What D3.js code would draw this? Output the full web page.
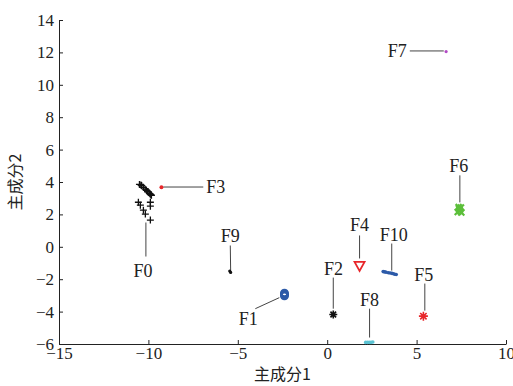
<!DOCTYPE html>
<html>
<head>
<meta charset="utf-8">
<script src="https://cdn.jsdelivr.net/npm/d3@7"></script>
<style>
  body { margin: 0; background: #fff; }
  text { font-family: "Liberation Serif", "Times New Roman", serif; }
  .cjk { font-family: "Noto Sans CJK SC", sans-serif; }
</style>
</head>
<body>
<div id="chart"></div>
<script>
// tick values
const xTicks = [-15, -10, -5, 0, 5, 10];
const yTicks = [-6, -4, -2, 0, 2, 4, 6, 8, 10, 12, 14];

// samples per group (PC1, PC2)
const f0 = [[-10.50, 3.85], [-10.42, 3.82], [-10.38, 3.78], [-10.28, 3.67], [-10.18, 3.56], [-10.11, 3.49],
            [-10.05, 3.42], [-10.02, 3.40], [-9.94, 3.30], [-9.90, 3.26], [-9.86, 3.22], [-9.83, 3.18],
            [-10.56, 2.75], [-10.45, 2.57], [-9.89, 2.75], [-9.89, 2.51],
            [-10.28, 2.26], [-10.17, 2.02], [-9.89, 1.65]];
const f1 = [[-2.39, -2.86], [-2.39, -2.94], [-2.39, -3.02]];
const f2 = [[0.34, -4.18]];
const f3 = [[-9.27, 3.67]];
const f4 = [[1.81, -1.18]];
const f5 = [[5.38, -4.28]];
const f6 = [[7.30, 2.15], [7.40, 2.30], [7.48, 2.42], [7.35, 2.45], [7.50, 2.12], [7.42, 2.22], [7.38, 2.35]];
const f7 = [[6.65, 12.05]];
const f8 = [[2.15, -5.90], [2.25, -5.90], [2.35, -5.90], [2.45, -5.90], [2.55, -5.88]];
const f9 = [[-5.45, -1.50], [-5.40, -1.58]];
const f10 = [[3.13, -1.53], [3.22, -1.55], [3.30, -1.57], [3.42, -1.60], [3.52, -1.62],
             [3.62, -1.64], [3.70, -1.66], [3.78, -1.69], [3.86, -1.71]];

// annotation: label, line from -> to, label spot, anchor
const notes = [
  { name: 'F0', from: [-10.14, 1.5], to: [-10.14, -0.6], at: [-10.3, -1.47], anchor: 'middle' },
  { name: 'F1', from: [-2.68, -3.14], to: [-4.02, -3.82], at: [-4.41, -4.43], anchor: 'middle' },
  { name: 'F2', from: [0.34, -3.82], to: [0.34, -1.9], at: [0.35, -1.38], anchor: 'middle' },
  { name: 'F3', from: [-9.17, 3.69], to: [-6.93, 3.69], at: [-6.77, 3.69], anchor: 'start' },
  { name: 'F4', from: [1.81, -0.72], to: [1.81, 0.7], at: [1.81, 1.32], anchor: 'middle' },
  { name: 'F5', from: [5.46, -3.94], to: [5.46, -2.27], at: [5.40, -1.77], anchor: 'middle' },
  { name: 'F6', from: [7.42, 2.74], to: [7.42, 4.41], at: [7.36, 4.96], anchor: 'middle' },
  { name: 'F7', from: [6.52, 12.09], to: [4.62, 12.09], at: [4.45, 12.09], anchor: 'end' },
  { name: 'F8', from: [2.37, -5.6], to: [2.37, -3.82], at: [2.37, -3.30], anchor: 'middle' },
  { name: 'F9', from: [-5.40, -1.47], to: [-5.42, 0.08], at: [-5.42, 0.64], anchor: 'middle' },
  { name: 'F10', from: [3.61, -1.47], to: [3.61, 0.2], at: [3.72, 0.72], anchor: 'middle' }
];

const W = 513, H = 386;
const margin = { left: 59, right: 7, top: 20, bottom: 42 };

const svg = d3.select('#chart').append('svg')
  .attr('width', W).attr('height', H);

const x = d3.scaleLinear().domain([-15, 10]).range([margin.left, W - margin.right]);
const y = d3.scaleLinear().domain([-6, 14]).range([H - margin.bottom, margin.top]);

// axes, ticks pointing inward
const xAxis = svg.append('g')
  .attr('transform', `translate(0,${y(-6)})`)
  .call(d3.axisBottom(x).tickValues(xTicks).tickSize(-4).tickSizeOuter(0).tickPadding(3));
const yAxis = svg.append('g')
  .attr('transform', `translate(${x(-15)},0)`)
  .call(d3.axisLeft(y).tickValues(yTicks).tickSize(-4).tickSizeOuter(0).tickPadding(5));

[xAxis, yAxis].forEach(g => {
  g.selectAll('text').style('font-size', '17px').style('fill', '#222')
    .style('font-family', '"Liberation Serif", serif');
  g.selectAll('line, path').style('stroke', '#222');
});

svg.append('text').attr('class', 'cjk')
  .attr('x', (x(-15) + x(10)) / 2).attr('y', 380)
  .attr('text-anchor', 'middle')
  .style('font-size', '16px').style('fill', '#222')
  .text('主成分1');

svg.append('text').attr('class', 'cjk')
  .attr('transform', `translate(21,${(y(-6) + y(14)) / 2}) rotate(-90)`)
  .attr('text-anchor', 'middle')
  .style('font-size', '16px').style('fill', '#222')
  .text('主成分2');

// annotation lines and labels
const ann = svg.append('g');
ann.selectAll('line').data(notes).join('line')
  .attr('x1', d => x(d.from[0])).attr('y1', d => y(d.from[1]))
  .attr('x2', d => x(d.to[0])).attr('y2', d => y(d.to[1]))
  .style('stroke', '#444').style('stroke-width', 1);
ann.selectAll('text').data(notes).join('text')
  .attr('x', d => x(d.at[0])).attr('y', d => y(d.at[1]))
  .attr('text-anchor', d => d.anchor)
  .attr('dominant-baseline', 'central')
  .style('font-size', '18px').style('fill', '#222')
  .text(d => d.name);

// marker helpers
const plot = svg.append('g');

function plus(data, color, s) {
  const g = plot.append('g');
  data.forEach(d => {
    g.append('path')
      .attr('d', `M${x(d[0]) - s},${y(d[1])}H${x(d[0]) + s}M${x(d[0])},${y(d[1]) - s}V${y(d[1]) + s}`)
      .style('stroke', color).style('stroke-width', 1.3).style('fill', 'none');
  });
}
function cross(data, color, s, w) {
  const g = plot.append('g');
  data.forEach(d => {
    const cx = x(d[0]), cy = y(d[1]);
    g.append('path')
      .attr('d', `M${cx - s},${cy - s}L${cx + s},${cy + s}M${cx - s},${cy + s}L${cx + s},${cy - s}`)
      .style('stroke', color).style('stroke-width', w).style('fill', 'none');
  });
}
function star(data, color, s) {
  const g = plot.append('g');
  data.forEach(d => {
    const cx = x(d[0]), cy = y(d[1]);
    let p = '';
    for (let i = 0; i < 4; i++) {
      const a = i * Math.PI / 4;
      p += `M${cx - s * Math.cos(a)},${cy - s * Math.sin(a)}L${cx + s * Math.cos(a)},${cy + s * Math.sin(a)}`;
    }
    g.append('path').attr('d', p)
      .style('stroke', color).style('stroke-width', 1.6).style('fill', 'none');
  });
}
function dots(data, color, r) {
  plot.append('g').selectAll('circle').data(data).join('circle')
    .attr('cx', d => x(d[0])).attr('cy', d => y(d[1])).attr('r', r)
    .style('fill', color);
}

plus(f0, '#111', 3.5);
dots(f3, '#e8262a', 2);
dots(f9, '#111', 1.6);
plot.append('g').selectAll('circle').data(f1).join('circle')
  .attr('cx', d => x(d[0])).attr('cy', d => y(d[1])).attr('r', 3.3)
  .style('fill', 'none').style('stroke', '#2c5aa8').style('stroke-width', 2.4);
star(f2, '#111', 4);
plot.append('g').selectAll('path').data(f4).join('path')
  .attr('d', d => {
    const cx = x(d[0]), cy = y(d[1]);
    return `M${cx - 5},${cy - 4}L${cx + 5},${cy - 4}L${cx},${cy + 5}Z`;
  })
  .style('fill', 'none').style('stroke', '#e8262a').style('stroke-width', 1.8);
dots(f10, '#2c5aa8', 1.8);
star(f5, '#e8262a', 4.5);
dots(f8, '#5bc3d3', 1.8);
dots(f7, '#b24ac4', 1.6);
cross(f6, '#5cbf3a', 3, 2.2);
</script>
</body>
</html>
